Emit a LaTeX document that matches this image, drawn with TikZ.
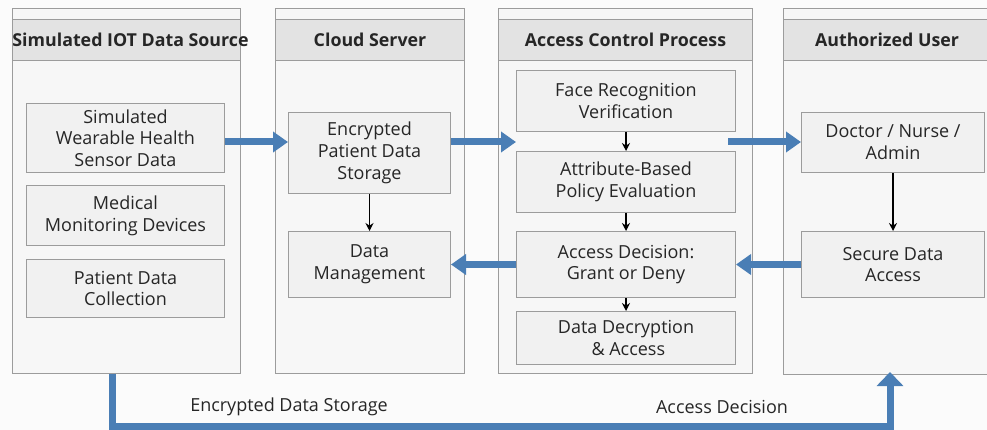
\documentclass[tikz,border=0pt]{standalone}
\usepackage{fontspec}
\setmainfont{Open Sans}
\usetikzlibrary{arrows.meta}
\definecolor{pagebg}{HTML}{FBFBFB}
\definecolor{lanebg}{HTML}{F7F7F7}
\definecolor{headbg}{HTML}{E3E3E3}
\definecolor{boxbg}{HTML}{F1F1F1}
\definecolor{edge}{HTML}{9C9C9C}
\definecolor{flowblue}{HTML}{4A7EB5}
\definecolor{ink}{HTML}{262626}
\tikzset{
  lane/.style={draw=edge, line width=1pt, fill=lanebg, anchor=north west, inner sep=0pt},
  headband/.style={draw=edge, line width=1pt, fill=headbg, anchor=north west, inner sep=0pt,
    minimum height=41pt, font=\fontsize{17.8}{20}\selectfont\bfseries, text=ink},
  headtext/.style={font=\fontsize{17.8}{20}\selectfont\bfseries, text=ink, inner sep=0pt},
  stepbox/.style={draw=edge, line width=1pt, fill=boxbg, anchor=north west, inner sep=0pt,
    align=center, font=\fontsize{18}{21.7}\selectfont, text=ink},
  flow/.style={draw=flowblue, line width=7pt, -{Triangle[width=20pt,length=15pt]}},
  thin/.style={draw=black, line width=1.8pt, -{Stealth[length=8pt,width=8pt]}},
  caption/.style={font=\fontsize{18}{20}\selectfont, text=ink}
}
\begin{document}
\begin{tikzpicture}[x=1pt,y=-1pt]
\useasboundingbox[fill=pagebg] (0,0) rectangle (987,430);

% swim lanes
\node[lane, minimum width=228pt, minimum height=365pt] (lane1) at (12,8) {};
\node[lane, minimum width=189pt, minimum height=365pt] (lane2) at (275,8) {};
\node[lane, minimum width=254pt, minimum height=365pt] (lane3) at (498,8) {};
\node[lane, minimum width=230pt, minimum height=366pt] (lane4) at (783,8) {};

% lane headers
\node[headband, minimum width=228pt] (h1) at (12,19) {};
\node[headtext] (t1) at ([xshift=4pt]h1.center) {Simulated IOT Data Source};
\node[headband, minimum width=189pt] (h2) at (275,19) {Cloud Server};
\node[headband, minimum width=254pt] (h3) at (498,19) {Access Control Process};
\node[headband, minimum width=230pt] (h4) at (783,19) {};
\node[headtext] (t4) at (887,39.5) {Authorized User};

% IoT source
\node[stepbox, minimum width=198pt, minimum height=69pt] (wear) at (26,103) {Simulated\\Wearable Health\\Sensor Data};
\node[stepbox, minimum width=198pt, minimum height=60pt] (med) at (26,185) {Medical\\Monitoring Devices};
\node[stepbox, minimum width=198pt, minimum height=58pt] (pcol) at (26,259) {Patient Data\\Collection};

% cloud server
\node[stepbox, minimum width=162pt, minimum height=81pt] (store) at (288,112) {Encrypted\\Patient Data\\Storage};
\node[stepbox, minimum width=162pt, minimum height=66pt] (mgmt) at (288,231) {Data\\Management};

% access control
\node[stepbox, minimum width=219pt, minimum height=61pt] (face) at (516,70) {Face Recognition\\Verification};
\node[stepbox, minimum width=219pt, minimum height=61pt] (abac) at (516,151) {Attribute-Based\\Policy Evaluation};
\node[stepbox, minimum width=219pt, minimum height=66pt] (decide) at (516,231) {Access Decision:\\Grant or Deny};
\node[stepbox, minimum width=219pt, minimum height=53pt] (decrypt) at (516,311) {Data Decryption\\\ \& Access};

% authorized user
\node[stepbox, minimum width=183pt, minimum height=60pt] (user) at (801,112) {Doctor / Nurse /\\Admin};
\node[stepbox, minimum width=183pt, minimum height=66pt] (secure) at (801,231) {Secure Data\\Access};

% flow levels
\coordinate (fwd) at (0,142);
\coordinate (botl) at (112,426);
\coordinate (botr) at (890,426);

% forward flows
\draw[flow] (wear.east |- fwd) -- (store.west |- fwd);
\draw[flow] (store.east |- fwd) -- (face.west |- fwd);
\draw[flow] ([xshift=-8pt]face.east |- fwd) -- (user.west |- fwd);

% returning flows
\draw[flow] (secure.west) -- (decide.east);
\draw[flow] (decide.west) -- (mgmt.east);

% bottom loop
\draw[flow, line join=miter, -{Triangle[width=26pt,length=14pt]}, shorten >=-3pt]
  (botl |- lane1.south) -- (botl) -- (botr) -- (botr |- lane4.south);
\node[caption] (cap1) at (289,407) {Encrypted Data Storage};
\node[caption] (cap2) at (722,407) {Access Decision};

% inner steps
\draw[thin] (store.south) -- (mgmt.north);
\draw[thin] (face.south) -- (abac.north);
\draw[thin] (abac.south) -- (decide.north);
\draw[thin] (decide.south) -- (decrypt.north);
\draw[thin] (user.south) -- (secure.north);
\end{tikzpicture}
\end{document}
